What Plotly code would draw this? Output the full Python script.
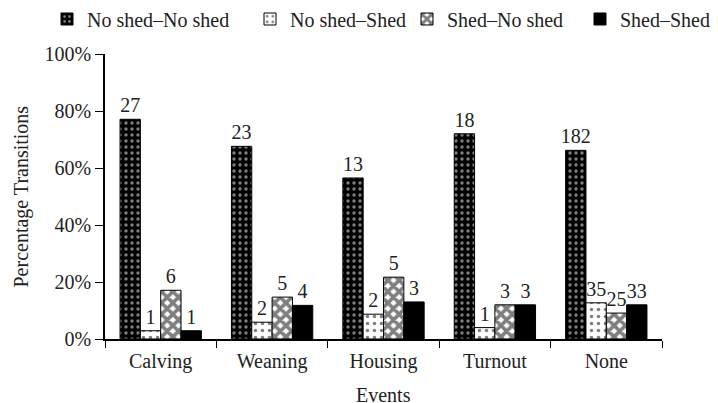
import plotly.graph_objects as go

events = ["Calving", "Weaning", "Housing", "Turnout", "None"]
series_names = ["No shed\u2013No shed", "No shed\u2013Shed", "Shed\u2013No shed", "Shed\u2013Shed"]
pct_noshed_noshed = [77.1, 67.6, 56.5, 72.0, 66.2]
pct_noshed_shed = [2.9, 5.9, 8.7, 4.0, 12.7]
pct_shed_noshed = [17.1, 14.7, 21.7, 12.0, 9.1]
pct_shed_shed = [2.9, 11.8, 13.0, 12.0, 12.0]
n_noshed_noshed = [27, 23, 13, 18, 182]
n_noshed_shed = [1, 2, 2, 1, 35]
n_shed_noshed = [6, 5, 5, 3, 25]
n_shed_shed = [1, 4, 3, 3, 33]
y_tickvals = [0, 20, 40, 60, 80, 100]
y_ticktext = ["0%", "20%", "40%", "60%", "80%", "100%"]
x_title = "Events"
y_title = "Percentage Transitions"

font_family = "Liberation Serif, Times New Roman, serif"
fs = 20
txt_color = "#222"

# page has an 8px body margin: figure drawn at (8, 8)
W, H = 710, 395
ML, MR, MT, MB = 97, 56, 46, 64
plot_w = W - ML - MR
plot_h = H - MT - MB

patterns = [
    dict(shape=".", bgcolor="black", fgcolor="white", size=6, solidity=0.25, fillmode="overlay"),
    dict(shape=".", bgcolor="white", fgcolor="black", size=7, solidity=0.2, fillmode="overlay"),
    dict(shape="x", bgcolor="white", fgcolor="black", size=8, solidity=0.7, fillmode="overlay"),
    None,
]
colors = ["black", "white", "white", "black"]
values = [pct_noshed_noshed, pct_noshed_shed, pct_shed_noshed, pct_shed_shed]
counts = [n_noshed_noshed, n_noshed_shed, n_shed_noshed, n_shed_shed]
legend_ids = ["legend", "legend2", "legend3", "legend4"]
legend_left_px = [39, 242, 399, 572]

fig = go.Figure()
for name, vals, cnt, col, pat, lid in zip(series_names, values, counts, colors, patterns, legend_ids):
    marker = dict(color=col, line=dict(color="black", width=1))
    if pat is not None:
        marker["pattern"] = pat
    fig.add_trace(go.Bar(
        x=events, y=vals, name=name, legend=lid,
        text=[str(c) for c in cnt], textposition="outside",
        constraintext="none",
        textfont=dict(family=font_family, size=fs, color=txt_color),
        cliponaxis=False, marker=marker,
    ))

legend_layouts = {}
for lid, lx in zip(legend_ids, legend_left_px):
    legend_layouts[lid] = dict(
        orientation="h", x=lx / W, xanchor="left", xref="container",
        y=1 + 35 / plot_h, yanchor="middle", yref="paper",
        font=dict(family=font_family, size=fs, color=txt_color),
        itemwidth=30, bgcolor="rgba(0,0,0,0)",
    )

x_title_c = 387  # container px of x-title centre
y_title_c = 13   # container px of y-title centre

fig.update_layout(
    width=W, height=H,
    margin=dict(l=ML, r=MR, t=MT, b=MB, autoexpand=False),
    paper_bgcolor="white", plot_bgcolor="white",
    barmode="group", bargap=0.27, bargroupgap=0,
    font=dict(family=font_family, size=fs, color=txt_color),
    showlegend=True,
    xaxis=dict(
        showline=True, linecolor="black", linewidth=1.5,
        ticks="outside", tickson="boundaries", ticklen=7, tickcolor="black",
        ticklabelstandoff=3,
        tickfont=dict(size=fs), showgrid=False, mirror=False, automargin=False,
    ),
    yaxis=dict(
        range=[0, 100], tickvals=y_tickvals, ticktext=y_ticktext,
        showline=True, linecolor="black", linewidth=1.5,
        ticks="outside", ticklen=8, tickcolor="black", ticklabelstandoff=0,
        tickfont=dict(size=fs), showgrid=False, zeroline=False, automargin=False,
    ),
    annotations=[
        dict(text=x_title, xref="paper", yref="paper", x=0.5,
             y=-(x_title_c - (H - MB)) / plot_h,
             xanchor="center", yanchor="middle", showarrow=False,
             font=dict(family=font_family, size=fs, color=txt_color)),
        dict(text=y_title, xref="paper", yref="paper", x=(y_title_c - ML) / plot_w, y=0.5,
             xanchor="center", yanchor="middle", textangle=-90, showarrow=False,
             font=dict(family=font_family, size=fs, color=txt_color)),
    ],
    **legend_layouts,
)

fig.write_html("out.html")
